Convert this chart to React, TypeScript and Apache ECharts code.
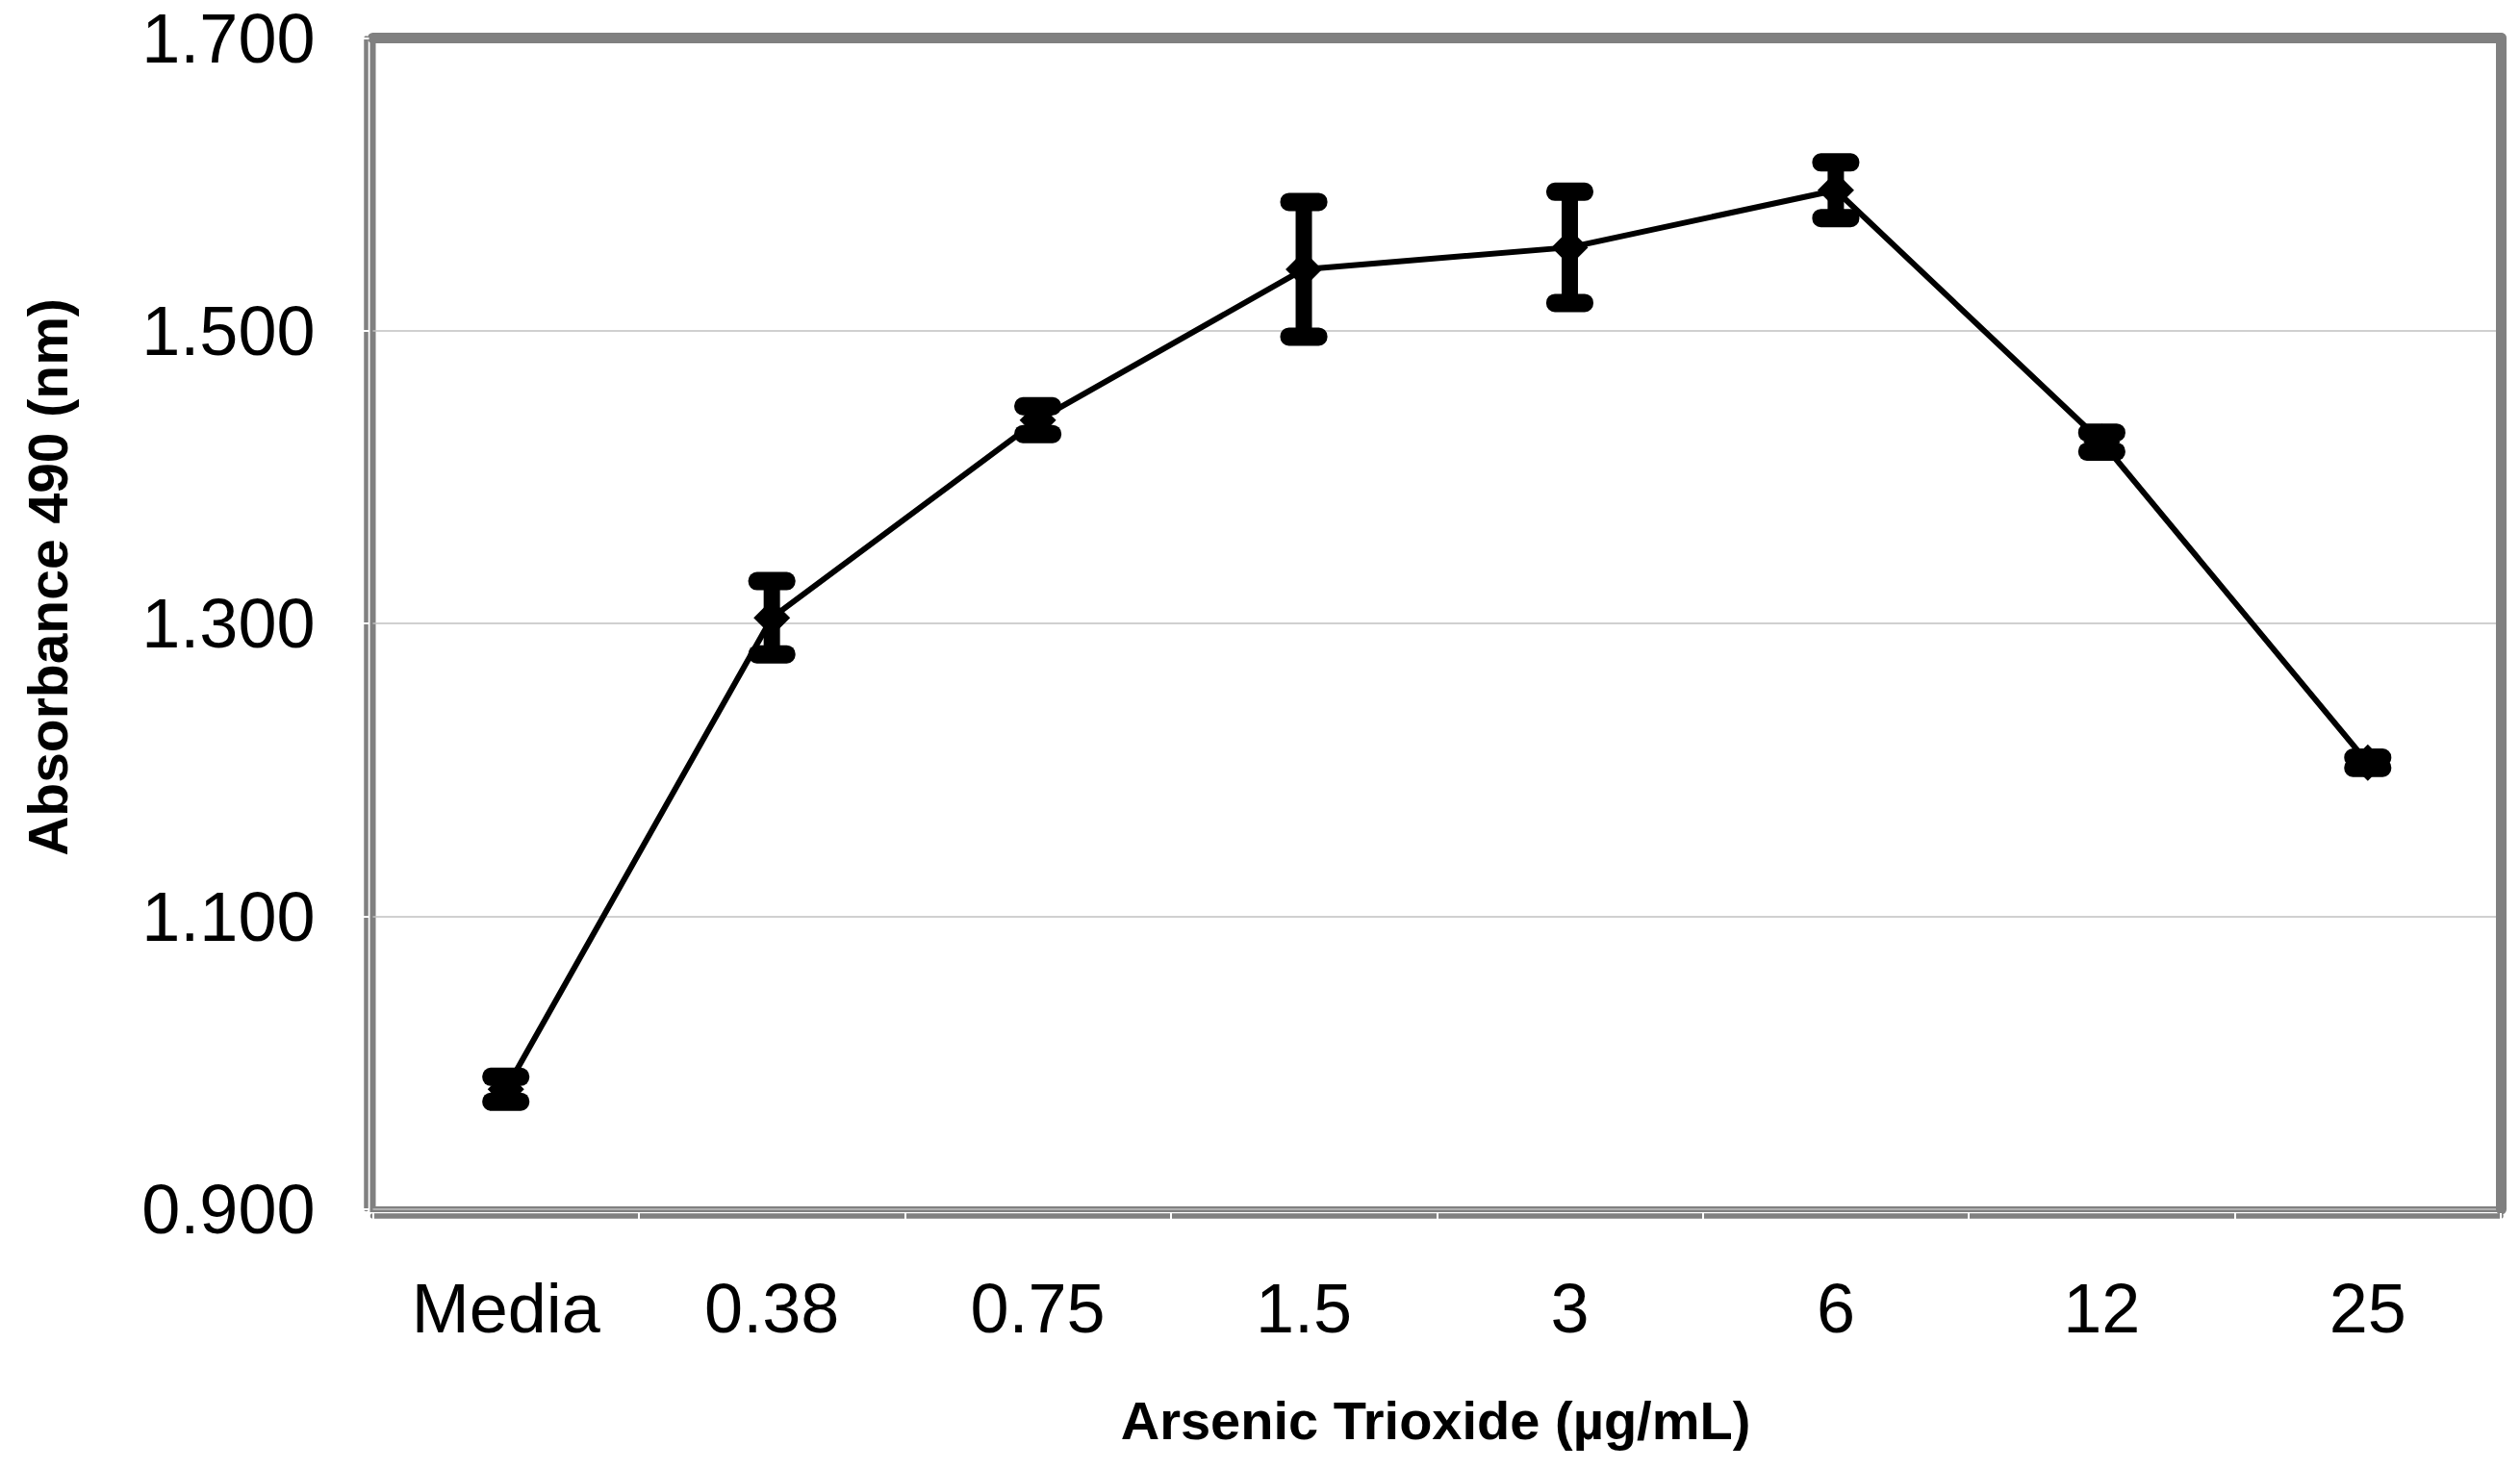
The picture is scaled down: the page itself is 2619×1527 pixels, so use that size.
import React, { useEffect, useRef } from "react";
import * as echarts from "echarts";

const categories = ["Media", "0.38", "0.75", "1.5", "3", "6", "12", "25"];
const means = [0.982, 1.304, 1.439, 1.542, 1.557, 1.596, 1.424, 1.205];
const errors = [0.0085, 0.025, 0.0095, 0.046, 0.038, 0.019, 0.0065, 0.0035];
const yTicks = { min: 0.9, max: 1.7, interval: 0.2 };
const xTitle = "Arsenic Trioxide (µg/mL)";
const yTitle = "Absorbance 490 (nm)";

const FONT = '"Liberation Sans", Arial, sans-serif';
const GRAY = "#808080";

export default function App() {
  const ref = useRef<HTMLDivElement>(null);
  useEffect(() => {
    if (!ref.current) return;
    const chart = echarts.init(ref.current, undefined, { renderer: "svg" });
    const gridLeft = 387.5;
    const gridTop = 39.5;
    const gridRight = 2599;
    const gridBottom = 1257;
    const errData = categories.map((_, i) => [i, means[i], errors[i]]);
    const yBase = { type: "value", min: yTicks.min, max: yTicks.max, interval: yTicks.interval };
    chart.setOption({
      animation: false,
      backgroundColor: "#ffffff",
      grid: {
        left: gridLeft,
        top: gridTop,
        width: gridRight - gridLeft,
        height: gridBottom - gridTop,
        show: true,
        borderColor: GRAY,
        borderWidth: 6,
        backgroundColor: "transparent",
      },
      xAxis: [
        {
          type: "category",
          data: categories,
          position: "bottom",
          offset: 7,
          boundaryGap: true,
          axisLine: { show: true, lineStyle: { color: GRAY, width: 5.5 } },
          axisTick: { show: false },
          axisLabel: {
            interval: 0,
            margin: 60,
            color: "#000",
            fontFamily: FONT,
            fontSize: 72,
          },
          splitLine: { show: false },
        },
        {
          type: "category",
          data: categories,
          position: "bottom",
          offset: 4,
          boundaryGap: true,
          axisLine: { show: false },
          axisTick: { show: true, interval: 0, length: 6, lineStyle: { color: "#ffffff", width: 2 } },
          axisLabel: { show: false },
          splitLine: { show: false },
        },
        {
          type: "category",
          data: categories,
          position: "top",
          axisLine: { show: true, lineStyle: { color: GRAY, width: 11 } },
          axisTick: { show: false },
          axisLabel: { show: false },
          splitLine: { show: false },
        },
      ],
      yAxis: [
        {
          ...yBase,
          position: "left",
          offset: 7,
          axisLine: { show: true, lineStyle: { color: GRAY, width: 4.5 } },
          axisTick: { show: false },
          axisLabel: {
            margin: 53,
            color: "#000",
            fontFamily: FONT,
            fontSize: 72,
            formatter: (v: number) => v.toFixed(3),
          },
          splitLine: { show: true, lineStyle: { color: "#c0c0c0", width: 1.5 } },
        },
        {
          ...yBase,
          position: "left",
          offset: 4,
          axisLine: { show: false },
          axisTick: { show: true, length: 6, lineStyle: { color: "#ffffff", width: 2 } },
          axisLabel: { show: false },
          splitLine: { show: false },
        },
        {
          ...yBase,
          position: "right",
          axisLine: { show: true, lineStyle: { color: GRAY, width: 11 } },
          axisTick: { show: false },
          axisLabel: { show: false },
          splitLine: { show: false },
        },
      ],
      series: [
        {
          type: "line",
          xAxisIndex: 0,
          yAxisIndex: 0,
          data: means,
          symbol: "diamond",
          symbolSize: 38,
          itemStyle: { color: "#000" },
          lineStyle: { color: "#000", width: 6 },
          z: 2,
        },
        {
          type: "custom",
          xAxisIndex: 0,
          yAxisIndex: 0,
          data: errData,
          z: 3,
          renderItem: (params: any, api: any) => {
            const x = api.value(0);
            const y = api.value(1);
            const e = api.value(2);
            const top = api.coord([x, y + e]);
            const bot = api.coord([x, y - e]);
            const cw = 49;
            const ch = 19;
            return {
              type: "group",
              children: [
                {
                  type: "line",
                  shape: { x1: top[0], y1: top[1], x2: bot[0], y2: bot[1] },
                  style: { stroke: "#000", lineWidth: 17 },
                },
                {
                  type: "rect",
                  shape: { x: top[0] - cw / 2, y: top[1] - ch / 2, width: cw, height: ch, r: 9 },
                  style: { fill: "#000" },
                },
                {
                  type: "rect",
                  shape: { x: bot[0] - cw / 2, y: bot[1] - ch / 2, width: cw, height: ch, r: 9 },
                  style: { fill: "#000" },
                },
              ],
            };
          },
        },
      ],
      graphic: [
        {
          type: "text",
          x: 1492,
          y: 1476,
          style: {
            text: xTitle,
            fontFamily: FONT,
            fontWeight: "bold",
            fontSize: 56,
            fill: "#000",
            align: "center",
            verticalAlign: "middle",
          },
        },
        {
          type: "text",
          x: 50,
          y: 600,
          rotation: Math.PI / 2,
          style: {
            text: yTitle,
            fontFamily: FONT,
            fontWeight: "bold",
            fontSize: 57,
            fill: "#000",
            align: "center",
            verticalAlign: "middle",
          },
        },
      ],
    });
    return () => chart.dispose();
  }, []);
  return (
    <div
      ref={ref}
      style={{ position: "fixed", left: 0, top: 0, width: 2619, height: 1527, background: "#fff" }}
    />
  );
}
